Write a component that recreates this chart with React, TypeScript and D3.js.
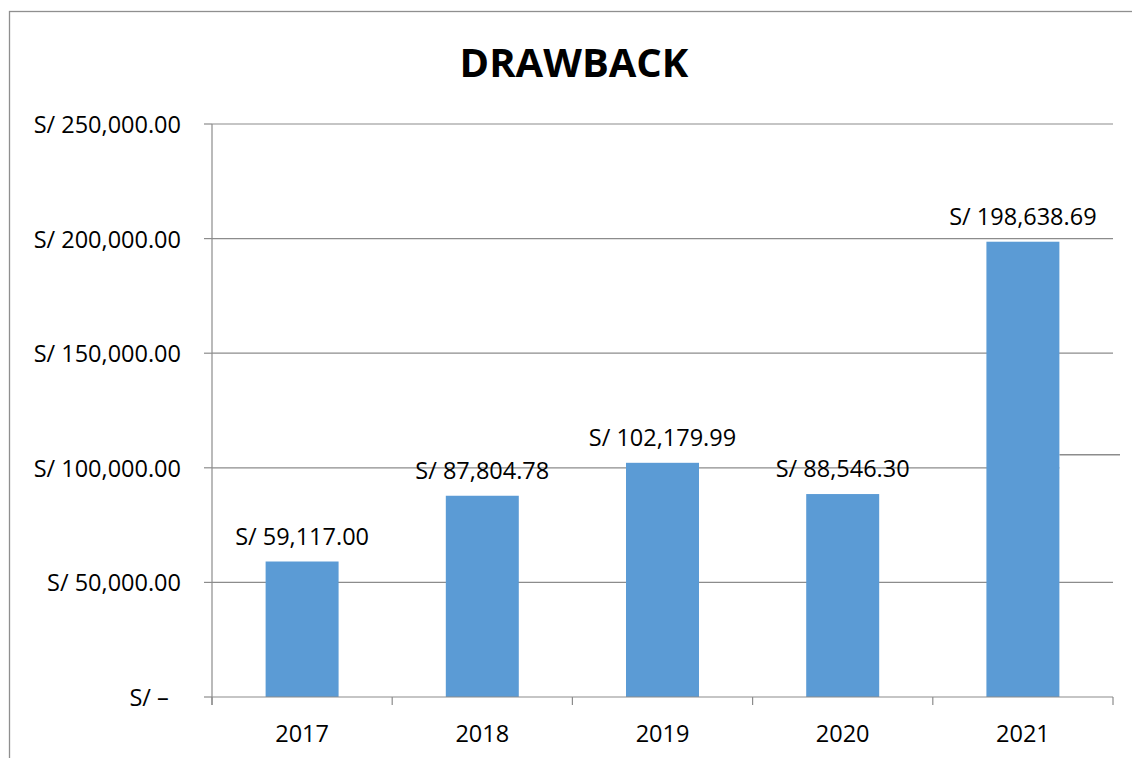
import React from "react";
import * as d3 from "d3";

const years = ["2017", "2018", "2019", "2020", "2021"];
const values = [59117.0, 87804.78, 102179.99, 88546.3, 198638.69];
const valueLabels = ["S/ 59,117.00", "S/ 87,804.78", "S/ 102,179.99", "S/ 88,546.30", "S/ 198,638.69"];
const yTicks = [0, 50000, 100000, 150000, 200000, 250000];
const yTickLabels = ["S/ –\u00A0\u00A0", "S/ 50,000.00", "S/ 100,000.00", "S/ 150,000.00", "S/ 200,000.00", "S/ 250,000.00"];
const title = "DRAWBACK";

const W = 1132;
const H = 758;
const left = 212;
const right = 1113;
const top = 124;
const bottom = 697;
const FONT = "'Open Sans', sans-serif";
const GRID = "#8c8c8c";
const BAR = "#5B9BD5";

export default function App() {
  const x = d3.scaleBand<string>().domain(years).range([left, right]).padding(0);
  const y = d3.scaleLinear().domain([0, 250000]).range([bottom, top]);
  const barW = x.bandwidth() * 0.405;
  const lastBarRight = (x("2021") as number) + x.bandwidth() / 2 + barW / 2;
  const boundaries = [...years.map((c) => x(c) as number), right];

  return (
    <svg
      width={W}
      height={H}
      style={{ position: "absolute", left: 0, top: 0, display: "block", background: "#fff" }}
    >
      <rect x={9.5} y={11.5} width={W + 20} height={H + 20} fill="#fff" stroke="#8f8f8f" strokeWidth={1.3} />
      <text x={574} y={77} textAnchor="middle" fontFamily={FONT} fontWeight="bold" fontSize={40} fill="#000">
        {title}
      </text>
      {yTicks.map((t, i) => (
        <g key={t}>
          {t !== 0 && (
            <line
              x1={left}
              x2={t === 100000 ? lastBarRight : right}
              y1={y(t)}
              y2={y(t)}
              stroke={GRID}
              strokeWidth={1.2}
            />
          )}
          <line x1={left - 8} x2={left} y1={y(t)} y2={y(t)} stroke={GRID} strokeWidth={1.2} />
          <text
            x={181}
            y={y(t)}
            textAnchor="end"
            dominantBaseline="central"
            fontFamily={FONT}
            fontSize={23.5}
            fill="#000"
            style={{ whiteSpace: "pre" }}
          >
            {yTickLabels[i]}
          </text>
        </g>
      ))}
      <line x1={lastBarRight} x2={right + 7} y1={y(100000) - 13} y2={y(100000) - 13} stroke={GRID} strokeWidth={1.5} />
      <line x1={left} x2={left} y1={y(250000)} y2={bottom + 8} stroke={GRID} strokeWidth={1.2} />
      {years.map((c, i) => {
        const cx = (x(c) as number) + x.bandwidth() / 2;
        return (
          <g key={c}>
            <rect x={cx - barW / 2} y={y(values[i])} width={barW} height={bottom - y(values[i])} fill={BAR} />
            <text x={cx} y={y(values[i]) - 17} textAnchor="middle" fontFamily={FONT} fontSize={23.5} fill="#000">
              {valueLabels[i]}
            </text>
            <text x={cx} y={742} textAnchor="middle" fontFamily={FONT} fontSize={23.5} fill="#000">
              {c}
            </text>
          </g>
        );
      })}
      <line x1={left} x2={right} y1={bottom} y2={bottom} stroke={GRID} strokeWidth={1.2} />
      {boundaries.map((b, i) => (
        <line key={i} x1={b} x2={b} y1={bottom} y2={bottom + 8} stroke={GRID} strokeWidth={1.2} />
      ))}
    </svg>
  );
}
